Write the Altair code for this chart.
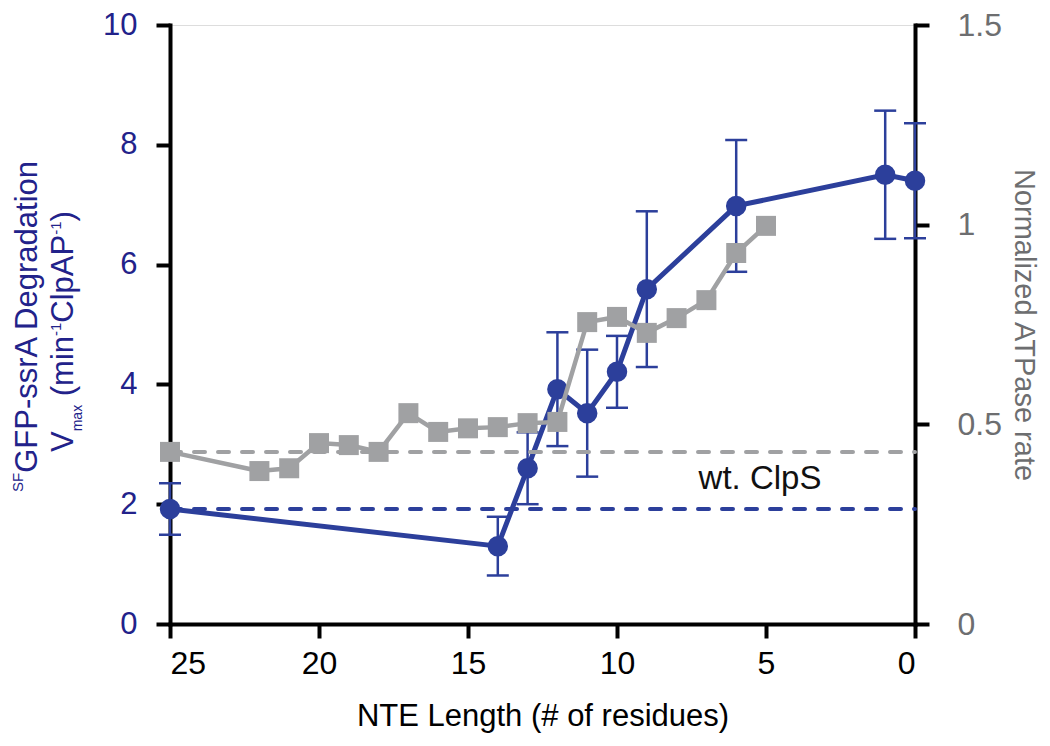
import altair as alt
import pandas as pd

# ---- data ----
blue_x = [25, 14, 13, 12, 11, 10, 9, 6, 1, 0]
blue_y = [1.92, 1.30, 2.60, 3.92, 3.52, 4.21, 5.59, 6.98, 7.50, 7.40]
blue_err = [0.43, 0.49, 0.60, 0.95, 1.06, 0.60, 1.30, 1.10, 1.07, 0.96]

gray_x = [25, 22, 21, 20, 19, 18, 17, 16, 15, 14, 13, 12, 11, 10, 9, 8, 7, 6, 5]
gray_y = [0.431, 0.383, 0.390, 0.453, 0.448, 0.431, 0.528, 0.481, 0.490, 0.493,
          0.503, 0.506, 0.756, 0.769, 0.729, 0.766, 0.811, 0.929, 0.997]

wt_blue = 1.92
wt_gray = 0.431
x_ticks = [25, 20, 15, 10, 5, 0]
left_ticks = [0, 2, 4, 6, 8, 10]
right_ticks = [0, 0.5, 1, 1.5]

BLUE = "#2C3F9B"
NAVY = "#22228A"
GRAY = "#A0A1A3"
GRAY_TXT = "#6D6E70"
FONT = "Liberation Sans"

PLOT_LEFT, PLOT_TOP = 170, 25  # absolute page position of plot origin (8px page margin + padding)

bdf = pd.DataFrame({
    "x": blue_x, "y": blue_y,
    "lo": [y - e for y, e in zip(blue_y, blue_err)],
    "hi": [y + e for y, e in zip(blue_y, blue_err)],
})
gdf = pd.DataFrame({"x": gray_x, "y": gray_y})
ref_b = pd.DataFrame({"x": [25], "x2": [0], "y": [wt_blue]})
ref_g = pd.DataFrame({"x": [25], "x2": [0], "y": [wt_gray]})
lab = pd.DataFrame({"x": [5.2], "y": [2.42], "t": ["wt. ClpS"]})

xscale = alt.Scale(domain=[25, 0], nice=False, zero=False)
xaxis = alt.Axis(values=x_ticks, title="NTE Length (# of residues)", grid=False,
                 domainWidth=4, domainColor="black", tickWidth=4, tickColor="black",
                 tickSize=14, labelFontSize=32, labelFont=FONT, labelColor="black",
                 labelPadding=10, titleFont=FONT, titleFontSize=31, titleFontWeight="normal",
                 titleColor="black", titlePadding=22, domainCap="square")


def X(field="x"):
    return alt.X(f"{field}:Q", scale=xscale, axis=xaxis)


yl_scale = alt.Scale(domain=[0, 10], nice=False)
yl_axis = alt.Axis(orient="left", values=left_ticks, grid=False, title="",
                   domainWidth=4, domainColor="black", tickWidth=4, tickColor="black",
                   tickSize=14, labelFontSize=31, labelFont=FONT, labelColor=NAVY,
                   labelPadding=19, domainCap="square")

yr_scale = alt.Scale(domain=[0, 1.5], nice=False)
yr_axis = alt.Axis(orient="right", values=right_ticks, grid=False, format=".1~f",
                   title="Normalized ATPase rate",
                   domainWidth=4, domainColor="black", tickWidth=4, tickColor="black",
                   tickSize=14, labelFontSize=32, labelFont=FONT, labelColor=GRAY_TXT,
                   labelPadding=28, titleFont=FONT, titleFontSize=29, titleFontWeight="normal",
                   titleColor=GRAY_TXT, titlePadding=7, domainCap="square")


def YL(field="y"):
    return alt.Y(f"{field}:Q", scale=yl_scale, axis=yl_axis)


def YR(field="y"):
    return alt.Y(f"{field}:Q", scale=yr_scale, axis=yr_axis)


# ---- left axis title, built from pieces (super/subscripts) ----
ARIAL_W = {"S": 667, "F": 611, "G": 778, "P": 667, "-": 333, "s": 500, "r": 333, "A": 667,
           " ": 278, "D": 722, "e": 556, "g": 556, "a": 556, "d": 556, "t": 278, "i": 222,
           "o": 556, "n": 556, "V": 667, "m": 833, "x": 500, "(": 333, ")": 333, "1": 556,
           "C": 722, "l": 222, "p": 556}


def text_w(s, size):
    return sum(ARIAL_W.get(c, 556) for c in s) / 1000 * size


title_lines = [
    # (start y abs, baseline x abs, [(text, font size, shift: + raises)])
    (492, 37, [("SF", 15, 14), ("GFP-ssrA Degradation", 31, 0)]),
    (452, 73, [("V", 31, 0), ("max", 14, -9), (" ", 31, 0), ("(min", 31, 0), ("-1", 15, 12),
               ("ClpAP", 31, 0), ("-1", 15, 12), (")", 31, 0)]),
]
title_parts = []
dummy = alt.Data(values=[{"a": 0}])
for y0, bx, pieces in title_lines:
    y = y0
    for s, fs, shift in pieces:
        if s.strip():
            title_parts.append(
                alt.Chart(dummy).mark_text(text=s, angle=270, align="left",
                                           baseline="alphabetic", font=FONT, fontSize=fs,
                                           color=NAVY).encode(
                    x=alt.value(bx - shift - PLOT_LEFT), y=alt.value(y - PLOT_TOP))
            )
        y -= text_w(s, fs)

b_dash = alt.Chart(ref_b).mark_rule(color=BLUE, strokeWidth=4, strokeDash=[11, 13],
                                     strokeCap="round").encode(x=X(), x2="x2:Q", y=YL())
b_err = alt.Chart(bdf).mark_rule(color=BLUE, strokeWidth=2.5).encode(x=X(), y=YL("lo"), y2="hi:Q")
b_cap_lo = alt.Chart(bdf).mark_tick(color=BLUE, orient="horizontal", size=22, thickness=2.5,
                                    opacity=1).encode(x=X(), y=YL("lo"))
b_cap_hi = alt.Chart(bdf).mark_tick(color=BLUE, orient="horizontal", size=22, thickness=2.5,
                                    opacity=1).encode(x=X(), y=YL("hi"))
b_line = alt.Chart(bdf).mark_line(color=BLUE, strokeWidth=5).encode(x=X(), y=YL())
b_pts = alt.Chart(bdf).mark_point(shape="circle", filled=True, size=420, color=BLUE,
                                  opacity=1).encode(x=X(), y=YL())
txt = alt.Chart(lab).mark_text(font=FONT, fontSize=33, color="#111111").encode(
    x=X(), y=YL(), text="t:N")

left = alt.layer(b_dash, b_err, b_cap_lo, b_cap_hi, b_line, b_pts, txt, *title_parts)

g_dash = alt.Chart(ref_g).mark_rule(color=GRAY, strokeWidth=4, strokeDash=[11, 13],
                                     strokeCap="round").encode(x=X(), x2="x2:Q", y=YR())
g_line = alt.Chart(gdf).mark_line(color=GRAY, strokeWidth=4.5).encode(x=X(), y=YR())
g_pts = alt.Chart(gdf).mark_point(shape="square", filled=True, size=400, color=GRAY,
                                  opacity=1).encode(x=X(), y=YR())
right = alt.layer(g_dash, g_line, g_pts)

chart = alt.layer(left, right).resolve_scale(y="independent").properties(
    width=745, height=599,
    autosize=alt.AutoSizeParams(type="none"),
    padding={"left": PLOT_LEFT - 8, "top": PLOT_TOP - 8, "right": 127, "bottom": 114},
).configure_view(stroke=None).configure(background="white")

chart.save("out.html", embed_options={"renderer": "svg", "actions": False})
